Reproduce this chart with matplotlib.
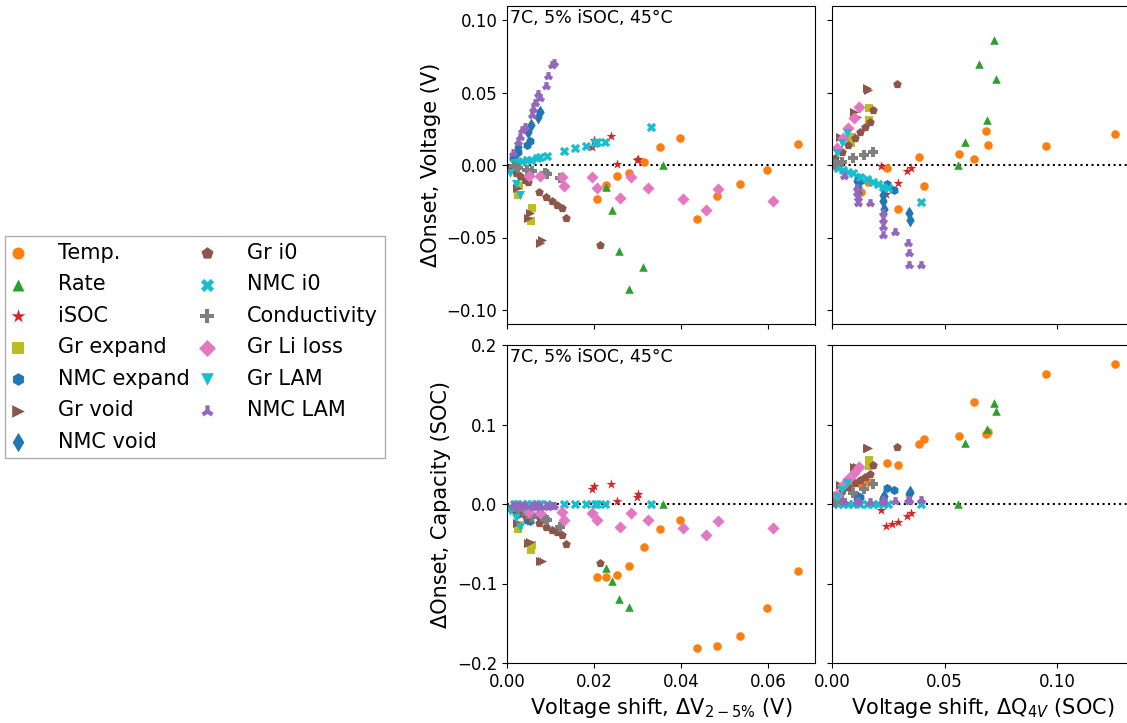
import numpy as np
import matplotlib
matplotlib.use("Agg")
import matplotlib.pyplot as plt

nan = np.nan

# ---------------- data ----------------
series_labels = ["Temp.", "Rate", "iSOC", "Gr expand", "NMC expand", "Gr void", "NMC void",
                 "Gr i0", "NMC i0", "Conductivity", "Gr Li loss", "Gr LAM", "NMC LAM"]

temp_dv = [0.0207, 0.0228, 0.0252, 0.0280, 0.0315, 0.0352, 0.0397, 0.0437, 0.0483, 0.0536, 0.0598, 0.0668]
temp_onv_l = [-0.0234, -0.0138, -0.0074, -0.0055, 0.0023, 0.0124, 0.0186, -0.0372, -0.0212, -0.0131, -0.0037, 0.0143]
temp_onq_l = [-0.0912, -0.0912, -0.089, -0.0784, -0.054, -0.0319, -0.0205, -0.1815, -0.179, -0.166, -0.131, -0.0847]
temp_dq = [0.0129, 0.0161, 0.0243, 0.0292, 0.0385, 0.0408, 0.0566, 0.063, 0.0684, 0.0692, 0.0951, 0.1256]
temp_onv_r = [-0.0184, -0.012, -0.0019, -0.0306, 0.0057, -0.0143, 0.0076, 0.0039, 0.0237, 0.014, 0.0133, 0.0214]
temp_onq_r = [0.025, 0.028, 0.0516, 0.0486, 0.0758, 0.082, 0.086, 0.1287, 0.0884, 0.090, 0.1635, 0.1765]

rate_dv = [0.0228, 0.0241, 0.0258, 0.0280, 0.0313, 0.0359]
rate_onv_l = [-0.0152, -0.0308, -0.0595, -0.0857, -0.0700, 0.0]
rate_onq_l = [-0.080, -0.097, -0.1195, -0.129, nan, 0.0]
rate_dq = [0.0559, 0.0591, 0.0652, 0.0689, 0.072, 0.073]
rate_onv_r = [0.0, 0.0156, 0.0697, 0.0308, 0.086, 0.0595]
rate_onq_r = [0.0, 0.0763, nan, 0.0948, 0.1267, 0.117]

isoc_dv = [0.0195, 0.0199, 0.0238, 0.0254, 0.0299, 0.0302]
isoc_onv_l = [0.0126, 0.0172, 0.0202, 0.0007, 0.0035, 0.0041]
isoc_onq_l = [0.0189, 0.0226, 0.0252, 0.0042, 0.0092, 0.0122]
isoc_dq = [0.0218, 0.0241, 0.0265, 0.0292, 0.0335, 0.035]
isoc_onv_r = [-0.0005, -0.0198, -0.0165, -0.0122, -0.0041, -0.0023]
isoc_onq_r = [-0.0075, -0.0273, -0.0256, -0.0222, -0.0147, -0.0117]

grexp_dv = [0.0026, 0.0028, 0.0055, 0.0058]
grexp_onv_l = [-0.0207, -0.0143, -0.0386, -0.0299]
grexp_onq_l = [-0.031, -0.026, -0.058, -0.052]
grexp_dq = [0.0086, 0.0088, 0.0164, 0.0166]
grexp_onv_r = [0.015, 0.0195, 0.031, 0.039]
grexp_onq_r = [0.022, 0.026, 0.048, 0.0553]

nmcexp_dv = [0.0013, 0.0026, 0.0045, 0.0053]
nmcexp_onv_l = [0.005, 0.0092, 0.014, 0.0166]
nmcexp_onq_l = [-0.006, -0.012, -0.02, -0.022]
nmcexp_dq = [0.0117, 0.0124, 0.0243, 0.0276]
nmcexp_onv_r = [-0.008, -0.011, -0.013, -0.0172]
nmcexp_onq_r = [0.0084, 0.009, 0.0197, 0.0176]

grvoid_dv = [0.0007, 0.0022, 0.0049, 0.0053, 0.0076, 0.008]
grvoid_onv_l = [-0.0023, -0.016, -0.0368, -0.0333, -0.054, -0.0517]
grvoid_onq_l = [-0.0054, -0.024, -0.049, -0.0474, -0.072, -0.0717]
grvoid_dq = [0.0006, 0.0036, 0.0098, 0.011, 0.0154, 0.0158]
grvoid_onv_r = [0.0034, 0.0195, 0.0368, 0.0333, 0.0529, 0.052]
grvoid_onq_r = [0.006, 0.024, 0.047, 0.046, 0.070, 0.070]

nmcvoid_dv = [0.0022, 0.0026, 0.0049, 0.0055, 0.0072, 0.0076]
nmcvoid_onv_l = [0.0092, 0.0126, 0.023, 0.0276, 0.0333, 0.0368]
nmcvoid_onq_l = [-0.004, -0.006, -0.010, -0.012, -0.014, -0.016]
nmcvoid_dq = [0.0112, 0.0114, 0.0116, 0.0225, 0.0228, 0.0231, 0.0342, 0.0346]
nmcvoid_onv_r = [-0.011, -0.015, -0.0195, -0.021, -0.025, -0.030, -0.033, -0.038]
nmcvoid_onq_r = [0.006, 0.007, 0.008, 0.006, 0.008, 0.010, 0.012, 0.0145]

gri0_dv = [0.0009, 0.0021, 0.0031, 0.0042, 0.0049, 0.0074, 0.009, 0.0103, 0.0114, 0.0126, 0.0136, 0.0214]
gri0_onv_l = [-0.0021, -0.0052, -0.0077, -0.0101, -0.0117, -0.0184, -0.0218, -0.0246, -0.0276, -0.0299, -0.0368, -0.0552]
gri0_onq_l = [-0.0048, -0.0083, -0.0112, -0.0141, -0.0172, -0.0243, -0.0285, -0.0327, -0.0356, -0.039, -0.0507, -0.0738]
gri0_dq = [0.0013, 0.0043, 0.0073, 0.0102, 0.0124, 0.0147, 0.0169, 0.0181, 0.0287]
gri0_onv_r = [0.0046, 0.0092, 0.0138, 0.0188, 0.0225, 0.0264, 0.0299, 0.038, 0.0559]
gri0_onq_r = [0.0113, 0.0167, 0.0218, 0.026, 0.030, 0.0335, 0.0377, 0.049, 0.072]

nmci0_dv = [0.0015, 0.0022, 0.0035, 0.0045, 0.0055, 0.0069, 0.0075, 0.0093, 0.013, 0.0157, 0.0182, 0.0202, 0.0208, 0.0225, 0.0331]
nmci0_onv_l = [0.0016, 0.0023, 0.0028, 0.0034, 0.0037, 0.005, 0.0053, 0.0062, 0.0097, 0.0115, 0.0131, 0.0154, 0.0162, 0.0159, 0.026]
nmci0_onq_l = [0.0, 0.0, 0.0, 0.0, 0.0, 0.0, 0.0, 0.0, 0.0, 0.0, 0.0, 0.0, 0.0, 0.0, 0.0]
nmci0_dq = [0.0006, 0.0028, 0.005, 0.0073, 0.0095, 0.0124, 0.0154, 0.0184, 0.0206, 0.0228, 0.025, 0.0396]
nmci0_onv_r = [-0.0012, -0.0023, -0.0034, -0.0046, -0.0057, -0.0081, -0.0097, -0.0115, -0.0131, -0.015, -0.0161, -0.0258]
nmci0_onq_r = [0.0, 0.0, 0.0, 0.0, 0.0, 0.0, 0.0, 0.0, 0.0, 0.0, 0.0, 0.0]

cond_dv = [0.0015, 0.0026, 0.0045, 0.0057, 0.0088, 0.0091, 0.0122]
cond_onv_l = [-0.001, -0.0018, -0.0035, -0.0041, -0.0058, -0.0062, -0.0087]
cond_onq_l = [-0.004, -0.0075, -0.013, -0.016, -0.019, -0.020, -0.0285]
cond_dq = [0.0015, 0.0043, 0.0092, 0.014, 0.0184]
cond_onv_r = [0.0008, 0.0018, 0.0046, 0.0069, 0.0087]
cond_onq_r = [0.002, 0.005, 0.0134, 0.0185, 0.0252]

liloss_dv = [0.0051, 0.0077, 0.0126, 0.0132, 0.0196, 0.0206, 0.026, 0.0285, 0.0325, 0.0405, 0.0458, 0.0484, 0.0612]
liloss_onv_l = [-0.0074, -0.0074, -0.0081, -0.0147, -0.0081, -0.0156, -0.0225, -0.0081, -0.0159, -0.0237, -0.0308, -0.0166, -0.0246]
liloss_onq_l = [-0.0105, -0.011, -0.0105, -0.0197, -0.011, -0.0201, -0.0293, -0.011, -0.0205, -0.0298, -0.039, -0.021, -0.0306]
liloss_dq = [0.0021, 0.005, 0.0073, 0.0098, 0.0121]
liloss_onv_r = [0.0115, 0.0184, 0.0253, 0.0322, 0.0398]
liloss_onq_r = [0.0113, 0.024, 0.031, 0.0386, 0.047]

grlam_dv = [0.0007, 0.002, 0.003]
grlam_onv_l = [-0.0057, -0.0133, -0.0207]
grlam_onq_l = [-0.0088, -0.018, -0.0285]
grlam_dq = [0.0021, 0.0043, 0.0068]
grlam_onv_r = [0.0081, 0.015, 0.0219]
grlam_onq_r = [0.0092, 0.0176, 0.0268]

nmclam_dv = [0.0014, 0.0026, 0.003, 0.0034, 0.0041, 0.0057, 0.006, 0.0064, 0.0072, 0.0076, 0.009, 0.0095, 0.0103, 0.0109]
nmclam_onv_l = [0.0081, 0.0161, 0.0195, 0.0241, 0.0264, 0.0345, 0.0386, 0.0425, 0.0488, 0.0464, 0.0547, 0.0614, 0.069, 0.0701]
nmclam_onq_l = [-0.002, -0.003, -0.002, -0.004, -0.003, -0.002, -0.004, -0.003, -0.002, -0.004, -0.003, -0.004, -0.002, -0.003]
nmclam_dq = [0.0055, 0.0112, 0.0113, 0.0114, 0.0115, 0.0169, 0.0225, 0.0226, 0.0227, 0.0228, 0.0281, 0.0336, 0.034, 0.0344, 0.0396]
nmclam_onv_r = [-0.0076, -0.0161, -0.0195, -0.023, -0.026, -0.026, -0.0333, -0.038, -0.0425, -0.0483, -0.046, -0.054, -0.061, -0.069, -0.069]
nmclam_onq_r = [0.002, 0.003, 0.002, 0.004, 0.003, 0.003, 0.004, 0.003, 0.005, 0.004, 0.004, 0.005, 0.004, 0.005, 0.005]

# ---------------- styles ----------------
styles = [
    ("o", "#ff7f0e", 38), ("^", "#2ca02c", 38), ("*", "#d62728", 55), ("s", "#bcbd22", 36),
    ("h", "#1f77b4", 42), (">", "#8c564b", 42), ("d", "#1f77b4", 50), ("p", "#8c564b", 42),
    ("X", "#17becf", 46), ("P", "#7f7f7f", 46), ("D", "#e377c2", 38), ("v", "#17becf", 42),
    ("2", "#9467bd", 40),
]

left_data = [
    (temp_dv, temp_onv_l, temp_onq_l), (rate_dv, rate_onv_l, rate_onq_l),
    (isoc_dv, isoc_onv_l, isoc_onq_l), (grexp_dv, grexp_onv_l, grexp_onq_l),
    (nmcexp_dv, nmcexp_onv_l, nmcexp_onq_l), (grvoid_dv, grvoid_onv_l, grvoid_onq_l),
    (nmcvoid_dv, nmcvoid_onv_l, nmcvoid_onq_l), (gri0_dv, gri0_onv_l, gri0_onq_l),
    (nmci0_dv, nmci0_onv_l, nmci0_onq_l), (cond_dv, cond_onv_l, cond_onq_l),
    (liloss_dv, liloss_onv_l, liloss_onq_l), (grlam_dv, grlam_onv_l, grlam_onq_l),
    (nmclam_dv, nmclam_onv_l, nmclam_onq_l),
]
right_data = [
    (temp_dq, temp_onv_r, temp_onq_r), (rate_dq, rate_onv_r, rate_onq_r),
    (isoc_dq, isoc_onv_r, isoc_onq_r), (grexp_dq, grexp_onv_r, grexp_onq_r),
    (nmcexp_dq, nmcexp_onv_r, nmcexp_onq_r), (grvoid_dq, grvoid_onv_r, grvoid_onq_r),
    (nmcvoid_dq, nmcvoid_onv_r, nmcvoid_onq_r), (gri0_dq, gri0_onv_r, gri0_onq_r),
    (nmci0_dq, nmci0_onv_r, nmci0_onq_r), (cond_dq, cond_onv_r, cond_onq_r),
    (liloss_dq, liloss_onv_r, liloss_onq_r), (grlam_dq, grlam_onv_r, grlam_onq_r),
    (nmclam_dq, nmclam_onv_r, nmclam_onq_r),
]

W, H = 1127, 723
fig = plt.figure(figsize=(W / 100, H / 100), dpi=100)

def rect(x0, y0, x1, y1):
    return [x0 / W, 1 - y1 / H, (x1 - x0) / W, (y1 - y0) / H]

ax_tl = fig.add_axes(rect(507, 5.5, 815, 324.5))
ax_tr = fig.add_axes(rect(832, 5.5, 1134, 324.5))
ax_bl = fig.add_axes(rect(507, 345, 815, 663))
ax_br = fig.add_axes(rect(832, 345, 1134, 663))

handles = []
for (mk, col, s), (dv, onv, onq), (dq, onv_r, onq_r) in zip(styles, left_data, right_data):
    kw = dict(marker=mk, color=col, s=s)
    if mk == "2":
        kw["linewidths"] = 3.0
    else:
        kw["linewidths"] = 0
    h = ax_tl.scatter(dv, onv, **kw)
    ax_bl.scatter(dv, onq, **kw)
    ax_tr.scatter(dq, onv_r, **kw)
    ax_br.scatter(dq, onq_r, **kw)
    handles.append(h)

for ax in (ax_tl, ax_tr, ax_bl, ax_br):
    ax.axhline(0, color="k", ls=":", lw=1.5, zorder=0.5)
    ax.tick_params(labelsize=12)

ax_tl.set_xlim(0, 308 / 4350)
ax_bl.set_xlim(0, 308 / 4350)
ax_tr.set_xlim(0, 302 / 2250)
ax_br.set_xlim(0, 302 / 2250)
ax_tl.set_ylim(-0.11, 0.11)
ax_tr.set_ylim(-0.11, 0.11)
ax_bl.set_ylim(-0.2, 0.2)
ax_br.set_ylim(-0.2, 0.2)

ax_tl.set_yticks([-0.10, -0.05, 0.00, 0.05, 0.10])
ax_tr.set_yticks([-0.10, -0.05, 0.00, 0.05, 0.10])
ax_bl.set_yticks([-0.2, -0.1, 0.0, 0.1, 0.2])
ax_br.set_yticks([-0.2, -0.1, 0.0, 0.1, 0.2])
ax_tl.set_xticks([0.0, 0.02, 0.04, 0.06])
ax_bl.set_xticks([0.0, 0.02, 0.04, 0.06])
ax_tr.set_xticks([0.0, 0.05, 0.10])
ax_br.set_xticks([0.0, 0.05, 0.10])
ax_tl.set_yticklabels(["\u22120.10", "\u22120.05", "0.00", "0.05", "0.10"])
ax_bl.set_yticklabels(["\u22120.2", "\u22120.1", "0.0", "0.1", "0.2"])
ax_bl.set_xticklabels(["0.00", "0.02", "0.04", "0.06"])
ax_br.set_xticklabels(["0.00", "0.05", "0.10"])

ax_tl.tick_params(labelbottom=False)
ax_tr.tick_params(labelbottom=False, labelleft=False)
ax_br.tick_params(labelleft=False)

ax_tl.set_ylabel("\u0394Onset, Voltage (V)", fontsize=15)
ax_bl.set_ylabel("\u0394Onset, Capacity (SOC)", fontsize=15)
ax_bl.set_xlabel("Voltage shift, \u0394V$_{2-5\\%}$ (V)", fontsize=15)
ax_br.set_xlabel("Voltage shift, \u0394Q$_{4V}$ (SOC)", fontsize=15)

for ax in (ax_tl, ax_bl):
    ax.text(0.01, 0.99, "7C, 5% iSOC, 45\u00b0C", transform=ax.transAxes,
            ha="left", va="top", fontsize=12.5)

leg = fig.legend(handles, series_labels, loc="upper left",
                 bbox_to_anchor=(5 / W, 1 - 236 / H), borderaxespad=0,
                 ncol=2, fontsize=15, markerscale=1.4, fancybox=False,
                 edgecolor="#999999", handlelength=0.6, handletextpad=1.6,
                 columnspacing=0.55, labelspacing=0.55, borderpad=0.33)

fig.savefig("out.png", dpi=100)
